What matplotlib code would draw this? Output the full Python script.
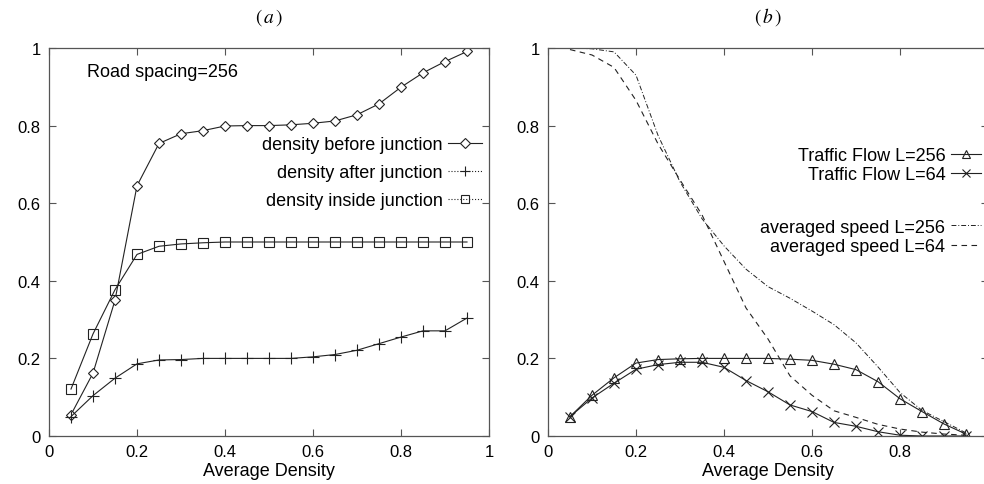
import matplotlib
matplotlib.use("Agg")
import matplotlib.pyplot as plt
from matplotlib.lines import Line2D

plt.rcParams['font.family'] = ['Liberation Sans', 'DejaVu Sans']
plt.rcParams['mathtext.fontset'] = 'stix'

tick_size = 12
label_size = 13
legend_size = 13
title_size = 14

# average density (shared x for every series)
density = [0.05, 0.10, 0.15, 0.20, 0.25, 0.30, 0.35, 0.40, 0.45, 0.50,
           0.55, 0.60, 0.65, 0.70, 0.75, 0.80, 0.85, 0.90, 0.95]

# panel (a): road spacing 256
before_junction = [0.055, 0.162, 0.350, 0.645, 0.754, 0.779, 0.787, 0.799, 0.800, 0.800,
                   0.802, 0.806, 0.812, 0.828, 0.856, 0.899, 0.936, 0.965, 0.991]
after_junction = [0.050, 0.104, 0.149, 0.186, 0.196, 0.197, 0.200, 0.200, 0.200, 0.200,
                  0.200, 0.204, 0.210, 0.221, 0.238, 0.255, 0.271, 0.271, 0.304]
inside_junction = [0.121, 0.263, 0.377, 0.468, 0.489, 0.495, 0.498, 0.500, 0.500, 0.500,
                   0.500, 0.500, 0.500, 0.500, 0.500, 0.500, 0.500, 0.500, 0.500]

# panel (b): flow and averaged speed
flow_256 = [0.050, 0.105, 0.150, 0.188, 0.197, 0.199, 0.200, 0.200, 0.200, 0.200,
            0.198, 0.195, 0.185, 0.171, 0.140, 0.096, 0.063, 0.031, 0.005]
flow_64 = [0.050, 0.098, 0.136, 0.172, 0.184, 0.190, 0.190, 0.177, 0.143, 0.114,
           0.080, 0.063, 0.035, 0.025, 0.011, 0.002, 0.000, 0.000, 0.000]
speed_256 = [1.000, 0.998, 0.990, 0.930, 0.775, 0.655, 0.560, 0.490, 0.430, 0.385,
             0.355, 0.322, 0.287, 0.240, 0.178, 0.112, 0.066, 0.037, 0.008]
speed_64 = [0.996, 0.982, 0.950, 0.865, 0.753, 0.660, 0.570, 0.450, 0.330, 0.250,
            0.155, 0.105, 0.065, 0.048, 0.030, 0.018, 0.010, 0.005, 0.002]

x_ticks = [0, 0.2, 0.4, 0.6, 0.8, 1]
x_tick_labels = ['0', '0.2', '0.4', '0.6', '0.8', '1']
y_ticks = [0, 0.2, 0.4, 0.6, 0.8, 1]
y_tick_labels = ['0', '0.2', '0.4', '0.6', '0.8', '1']

line_color = '#222222'
frame_color = '#555555'


def style_axes(ax, title, xlabels):
    ax.set_xlim(0, 1)
    ax.set_ylim(0, 1)
    ax.set_xticks(x_ticks)
    ax.set_xticklabels(xlabels)
    ax.set_yticks(y_ticks)
    ax.set_yticklabels(y_tick_labels)
    ax.tick_params(direction='in', top=True, right=True, length=5, width=0.8,
                   labelsize=tick_size, color=frame_color, pad=6)
    for spine in ax.spines.values():
        spine.set_color(frame_color)
        spine.set_linewidth(0.9)
    ax.set_xlabel('Average Density', fontsize=label_size, labelpad=2)
    ax.set_title(title, fontsize=title_size, pad=19)


fig = plt.figure(figsize=(9.84, 4.85), dpi=100)

# ---- panel (a)
ax1 = fig.add_axes([49 / 984, 1 - 437 / 485, 440 / 984, 388 / 485])
style_axes(ax1, r'$(\,a\,)$', x_tick_labels)
ax1.plot(density, before_junction, color=line_color, lw=0.8, marker='D', ms=5.5,
         mfc='white', mec=line_color, mew=0.8)
ax1.plot(density, after_junction, color=line_color, lw=0.8, marker='+', ms=8,
         mew=0.8)
ax1.plot(density, inside_junction, color=line_color, lw=0.8, marker='s', ms=7.5,
         mfc='none', mec=line_color, mew=0.8)
ax1.text(0.086, 0.94, 'Road spacing=256', fontsize=label_size, va='center', ha='left')

handles_a = [
    Line2D([], [], color=line_color, lw=0.8, marker='D', ms=5, mfc='white', mec=line_color, mew=0.8),
    Line2D([], [], color=line_color, lw=0.8, ls=':', marker='+', ms=7, mew=0.8),
    Line2D([], [], color=line_color, lw=0.8, ls=':', marker='s', ms=6, mfc='none', mew=0.8),
]
labels_a = ['density before junction', 'density after junction', 'density inside junction']
ax1.legend(handles_a, labels_a, loc='upper right', bbox_to_anchor=(0.985, 0.772),
           frameon=False, markerfirst=False, fontsize=legend_size, handlelength=1.9,
           handletextpad=0.3, labelspacing=0.6, borderpad=0, borderaxespad=0)

# ---- panel (b)  (the x = 1 label falls outside the picture in the original)
ax2 = fig.add_axes([548 / 984, 1 - 437 / 485, 440 / 984, 388 / 485])
style_axes(ax2, r'$(\,b\,)$', x_tick_labels[:-1] + [''])
ax2.plot(density, flow_256, color=line_color, lw=0.8, marker='^', ms=6.5,
         mfc='none', mec=line_color, mew=0.8)
ax2.plot(density, flow_64, color=line_color, lw=0.8, marker='x', ms=6.5, mew=0.8)
ax2.plot(density, speed_256, color=line_color, lw=0.7, ls=(0, (5, 2, 1, 2)))
ax2.plot(density, speed_64, color=line_color, lw=0.8, ls=(0, (5, 4)))

handles_flow = [
    Line2D([], [], color=line_color, lw=0.8, marker='^', ms=5.5, mfc='none', mew=0.8),
    Line2D([], [], color=line_color, lw=0.8, marker='x', ms=5.5, mew=0.8),
]
leg_flow = ax2.legend(handles_flow, ['Traffic Flow L=256', 'Traffic Flow L=64'],
                      loc='upper right', bbox_to_anchor=(0.985, 0.745), frameon=False,
                      markerfirst=False, fontsize=legend_size, handlelength=1.7,
                      handletextpad=0.3, labelspacing=0.12, borderpad=0, borderaxespad=0)
ax2.add_artist(leg_flow)

handles_speed = [
    Line2D([], [], color=line_color, lw=0.7, ls=(0, (5, 2, 1, 2))),
    Line2D([], [], color=line_color, lw=0.8, ls=(0, (5, 4))),
]
ax2.legend(handles_speed, ['averaged speed L=256', 'averaged speed L=64'],
           loc='upper right', bbox_to_anchor=(0.985, 0.56), frameon=False,
           markerfirst=False, fontsize=legend_size, handlelength=1.7,
           handletextpad=0.3, labelspacing=0.12, borderpad=0, borderaxespad=0)

fig.savefig('out.png', dpi=100)
